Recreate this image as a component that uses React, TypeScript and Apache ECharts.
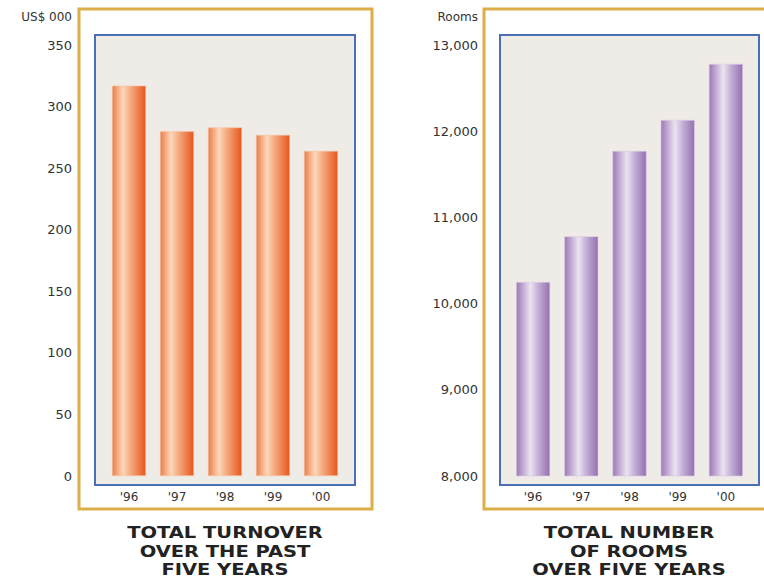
import React, { useEffect, useRef } from "react";
import * as echarts from "echarts";

const years = ["'96", "'97", "'98", "'99", "'00"];
const turnover = [317, 280, 283, 277, 264];
const rooms = [10250, 10780, 11770, 12130, 12780];
const turnoverTicks = { min: 0, max: 350, interval: 50 };
const roomTicks = { min: 8000, max: 13000, interval: 1000 };
const leftTitle = "TOTAL TURNOVER\nOVER THE PAST\nFIVE YEARS";
const rightTitle = "TOTAL NUMBER\nOF ROOMS\nOVER FIVE YEARS";
const leftUnit = "US$ 000";
const rightUnit = "Rooms";

const FONT = "DejaVu Sans";
const GOLD = "#dcae47";
const BLUE = "#4b6fb4";
const PANEL = "#efebe6";

const orangeGrad = new echarts.graphic.LinearGradient(0, 0, 1, 0, [
  { offset: 0, color: "#ee7d48" },
  { offset: 0.32, color: "#fcd6ba" },
  { offset: 0.6, color: "#f3a173" },
  { offset: 1, color: "#e4571e" },
]);
const purpleGrad = new echarts.graphic.LinearGradient(0, 0, 1, 0, [
  { offset: 0, color: "#9d78b8" },
  { offset: 0.42, color: "#ece3f1" },
  { offset: 0.65, color: "#c4afd5" },
  { offset: 1, color: "#9570b0" },
]);

export default function App() {
  const ref = useRef<HTMLDivElement>(null);
  useEffect(() => {
    const chart = echarts.init(ref.current!, null, { renderer: "svg" });
    const labelStyle = { color: "#333", fontFamily: FONT, fontSize: 13 };
    const yAxisCommon = {
      type: "value" as const,
      axisLine: { show: false },
      axisTick: { show: false },
      splitLine: { show: false },
      nameLocation: "end" as const,
      nameGap: 22,
    };
    const xAxisCommon = {
      type: "category" as const,
      data: years,
      axisLine: { show: false },
      axisTick: { show: false },
      axisLabel: { ...labelStyle, fontSize: 12, margin: 15 },
    };
    chart.setOption({
      animation: false,
      backgroundColor: "#ffffff",
      grid: [
        { left: 105, top: 45, width: 240, height: 431 },
        { left: 509, top: 45, width: 241, height: 431 },
      ],
      xAxis: [
        { ...xAxisCommon, gridIndex: 0 },
        { ...xAxisCommon, gridIndex: 1 },
      ],
      yAxis: [
        {
          ...yAxisCommon,
          gridIndex: 0,
          ...turnoverTicks,
          name: leftUnit,
          nameTextStyle: { ...labelStyle, fontSize: 12, align: "right", padding: [0, 33, 0, 0] },
          axisLabel: { ...labelStyle, margin: 33 },
        },
        {
          ...yAxisCommon,
          gridIndex: 1,
          ...roomTicks,
          name: rightUnit,
          nameTextStyle: { ...labelStyle, fontSize: 12, align: "right", padding: [0, 31, 0, 0] },
          axisLabel: {
            ...labelStyle,
            margin: 31,
            formatter: (v: number) => v.toLocaleString("en-US"),
          },
        },
      ],
      series: [
        {
          type: "bar",
          xAxisIndex: 0,
          yAxisIndex: 0,
          data: turnover,
          barWidth: 34,
          itemStyle: { color: orangeGrad, borderColor: "#f7c3a3", borderWidth: 0.6 },
        },
        {
          type: "bar",
          xAxisIndex: 1,
          yAxisIndex: 1,
          data: rooms,
          barWidth: 34,
          itemStyle: { color: purpleGrad, borderColor: "#d9cbe3", borderWidth: 0.6 },
        },
      ],
      graphic: [
        {
          type: "rect",
          z: -10,
          shape: { x: 79, y: 9, width: 293, height: 500 },
          style: { fill: "#ffffff", stroke: GOLD, lineWidth: 3 },
        },
        {
          type: "rect",
          z: -10,
          shape: { x: 484, y: 9, width: 300, height: 500 },
          style: { fill: "#ffffff", stroke: GOLD, lineWidth: 3 },
        },
        {
          type: "rect",
          z: -9,
          shape: { x: 95, y: 35, width: 260, height: 450 },
          style: { fill: PANEL, stroke: BLUE, lineWidth: 2 },
        },
        {
          type: "rect",
          z: -9,
          shape: { x: 500, y: 35, width: 259, height: 450 },
          style: { fill: PANEL, stroke: BLUE, lineWidth: 2 },
        },
        {
          type: "text",
          x: 225,
          y: 524,
          scaleX: 1.3,
          style: {
            text: leftTitle,
            fontFamily: FONT,
            fontWeight: "bold",
            fontSize: 15,
            lineHeight: 18.5,
            fill: "#222",
            align: "center",
            verticalAlign: "top",
          },
        },
        {
          type: "text",
          x: 629,
          y: 524,
          scaleX: 1.3,
          style: {
            text: rightTitle,
            fontFamily: FONT,
            fontWeight: "bold",
            fontSize: 15,
            lineHeight: 18.5,
            fill: "#222",
            align: "center",
            verticalAlign: "top",
          },
        },
      ],
    });
    return () => chart.dispose();
  }, []);
  return (
    <div
      ref={ref}
      style={{ position: "fixed", left: 0, top: 0, width: 764, height: 580 }}
    />
  );
}
